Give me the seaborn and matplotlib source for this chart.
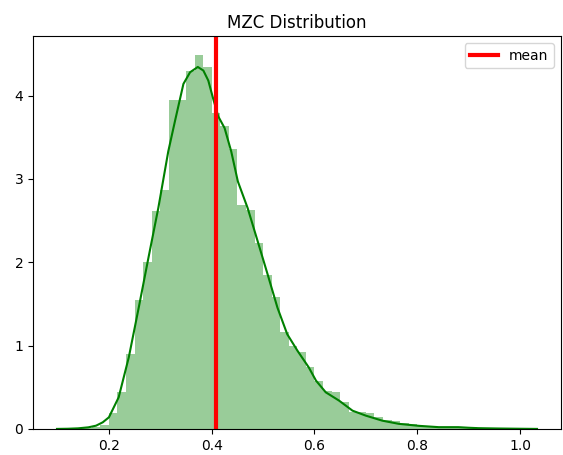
import numpy as np
import pandas as pd
import matplotlib
matplotlib.use('Agg')
import matplotlib.pyplot as plt
import seaborn as sns

# histogram (density), bins of width 1/60 starting at 0.1333
bin_start = 0.2 - 4 / 60
bin_width = 1 / 60
hist_heights = [
    0.005, 0.01, 0.02, 0.05,
    0.19, 0.44, 0.90, 1.55, 2.00, 2.62, 2.87, 3.95, 3.95, 4.30, 4.49,
    4.34, 3.79, 3.64, 3.36, 2.69, 2.63, 2.23, 1.85, 1.58, 1.16,
    1.00, 0.92, 0.74, 0.58, 0.46, 0.44, 0.32, 0.20, 0.20, 0.19,
    0.14, 0.11, 0.09, 0.07, 0.055, 0.04, 0.03, 0.02, 0.02, 0.015,
    0.02, 0.02, 0.015, 0.01, 0.005, 0.005, 0.005,
]

# kde curve points
kde_x = [0.099, 0.12, 0.14, 0.16, 0.175, 0.188, 0.2, 0.219, 0.2387, 0.258,
         0.2768, 0.2961, 0.3155, 0.329, 0.345, 0.358, 0.373, 0.3838, 0.3934,
         0.403, 0.4128, 0.4251, 0.438, 0.4509, 0.470, 0.4896, 0.5089, 0.528,
         0.547, 0.567, 0.589, 0.603, 0.622, 0.648, 0.674, 0.700, 0.732, 0.764,
         0.803, 0.842, 0.865, 0.880, 0.90, 0.919, 0.958, 1.0, 1.033]
kde_y = [0.001, 0.003, 0.008, 0.02, 0.04, 0.08, 0.14, 0.38, 0.86, 1.455,
         2.05, 2.65, 3.33, 3.706, 4.14, 4.28, 4.343, 4.30, 4.18,
         3.96, 3.75, 3.61, 3.33, 2.97, 2.65, 2.25, 1.854, 1.455,
         1.137, 0.938, 0.738, 0.58, 0.44, 0.34, 0.22, 0.16, 0.10, 0.062,
         0.038, 0.022, 0.022, 0.022, 0.015, 0.01, 0.006, 0.003, 0.001]

mean_value = 0.409

edges = bin_start + bin_width * np.arange(len(hist_heights) + 1)
hist_df = pd.DataFrame({
    'mzc': (edges[:-1] + edges[1:]) / 2,
    'density': hist_heights,
})
kde_df = pd.DataFrame({'mzc': kde_x, 'density': kde_y})

fig = plt.figure(figsize=(5.63, 4.55), dpi=100)
ax = fig.add_axes([33 / 563, 1 - 429 / 455, (561 - 33) / 563, (429 - 36) / 455])

sns.histplot(data=hist_df, x='mzc', weights='density', bins=list(edges),
             color='g', alpha=0.4, linewidth=0, ax=ax)
sns.lineplot(data=kde_df, x='mzc', y='density', color='g', linewidth=1.5, ax=ax)
ax.axvline(mean_value, color='r', linewidth=3, label='mean')

ax.set_ylabel('')
ax.set_xlabel('')
ax.set_title('MZC Distribution')
ax.legend(loc='upper right')

fig.savefig('out.png', dpi=100)
